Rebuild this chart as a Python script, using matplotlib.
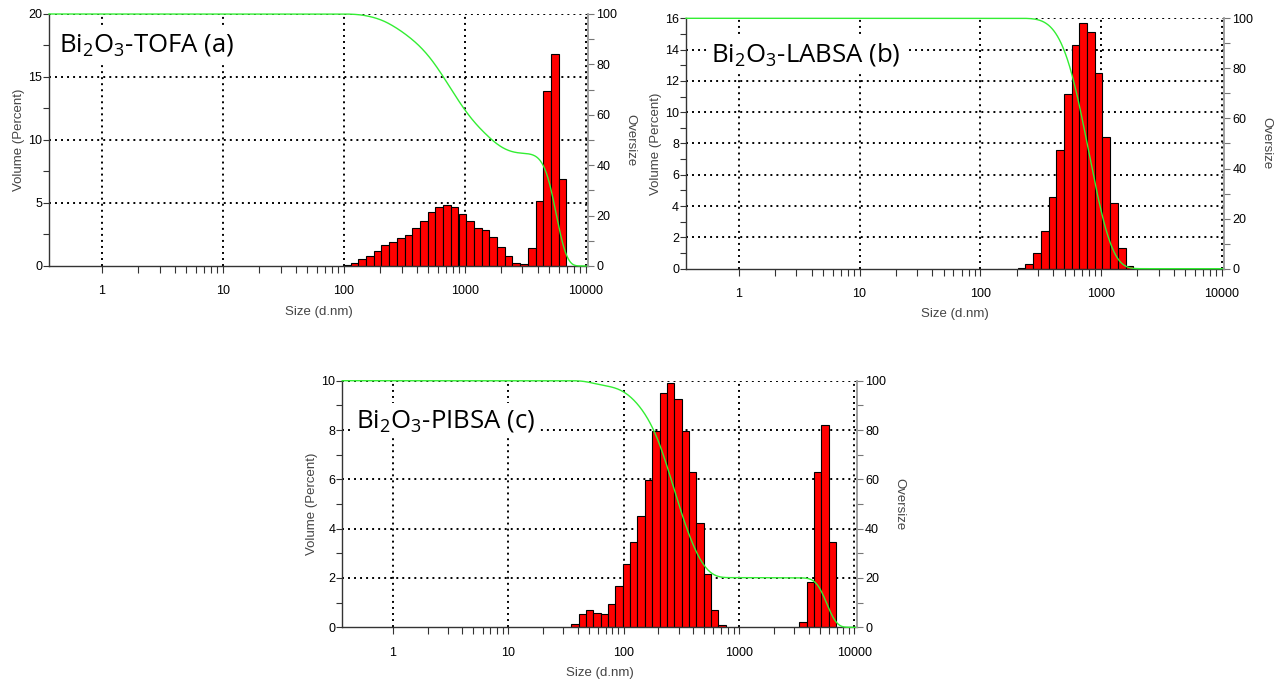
import numpy as np
import matplotlib
matplotlib.use("Agg")
import matplotlib.pyplot as plt
from matplotlib.ticker import FixedLocator, MultipleLocator, NullFormatter

plt.rcParams['font.family'] = ['Liberation Sans', 'DejaVu Sans']

# size classes (d.nm) and volume %
sizes_a = [105.7, 122.4, 141.8, 164.2, 190.1, 220.2, 255.0, 295.3, 342.0, 396.1,
           458.7, 531.2, 615.1, 712.4, 825.0, 955.4, 1106, 1281, 1484, 1718,
           1990, 2305, 2669, 3091, 3580, 4145, 4801, 5560, 6439]
vol_a = [0.1, 0.27, 0.58, 0.82, 1.19, 1.67, 1.94, 2.23, 2.49, 3.0,
         3.6, 4.32, 4.72, 4.85, 4.67, 4.11, 3.58, 3.05, 2.86, 2.31,
         1.51, 0.77, 0.21, 0.19, 1.41, 5.12, 13.85, 16.84, 6.92]

sizes_b = [220.2, 255.0, 295.3, 342.0, 396.1, 458.7, 531.2, 615.1, 712.4, 825.0,
           955.4, 1106, 1281, 1484, 1718]
vol_b = [0.03, 0.3, 1.02, 2.39, 4.59, 7.58, 11.15, 14.3, 15.72, 15.11,
         12.53, 8.42, 4.21, 1.35, 0.15]

sizes_c = [37.84, 43.82, 50.75, 58.77, 68.06, 78.82, 91.28, 105.7, 122.4, 141.8,
           164.2, 190.1, 220.2, 255.0, 295.3, 342.0, 396.1, 458.7, 531.2, 615.1,
           712.4, 3580, 4145, 4801, 5560, 6439]
vol_c = [0.12, 0.55, 0.70, 0.58, 0.54, 0.93, 1.67, 2.55, 3.45, 4.51,
         5.96, 7.95, 9.49, 9.91, 9.25, 7.95, 6.28, 4.23, 2.16, 0.70,
         0.08, 0.2, 1.85, 6.28, 8.2, 3.45]

titles = [r'Bi$_\mathregular{2}$O$_\mathregular{3}$-TOFA (a)',
          r'Bi$_\mathregular{2}$O$_\mathregular{3}$-LABSA (b)',
          r'Bi$_\mathregular{2}$O$_\mathregular{3}$-PIBSA (c)']

W, H = 1286, 687
XLIM = (0.365, 10450)
CLASS_RATIO = 1.158


def oversize(sizes, vols, grid, sigma=0.035):
    # cumulative oversize curve, smoothed in log space
    lx = np.log10(sizes)
    v = np.asarray(vols, float)
    over = 100 * (1 - (np.cumsum(v) - v) / v.sum())
    step = np.log10(CLASS_RATIO)
    px = np.r_[lx[0] - step, lx, lx[-1] + step]
    py = np.r_[100, over, 0]
    g = np.log10(grid)
    y = np.interp(g, px, py)
    dg = g[1] - g[0]
    n = int(4 * sigma / dg)
    k = np.exp(-0.5 * (np.arange(-n, n + 1) * dg / sigma) ** 2)
    k /= k.sum()
    ypad = np.r_[np.full(n, y[0]), y, np.full(n, y[-1])]
    return np.convolve(ypad, k, mode='valid')


fig = plt.figure(figsize=(W / 100, H / 100), dpi=100)


def panel(box, sizes, vols, ymax, ystep, title, tx, ty):
    l, r, t, b = box
    ax = fig.add_axes([l / W, 1 - b / H, (r - l) / W, (b - t) / H])
    ax.set_xscale('log')
    s = np.asarray(sizes)
    left = s / np.sqrt(CLASS_RATIO)
    width = s * np.sqrt(CLASS_RATIO) - left
    ax.bar(left, vols, width=width, align='edge', color='#ff0000',
           edgecolor='black', linewidth=0.8, zorder=2)
    ax.set_xlim(XLIM)
    ax.set_ylim(0, ymax)
    ax.set_xticks([1, 10, 100, 1000, 10000])
    ax.set_xticklabels(['1', '10', '100', '1000', '10000'])
    ax.xaxis.set_minor_locator(FixedLocator([m * 10 ** d for d in range(4) for m in range(2, 10)]))
    ax.xaxis.set_minor_formatter(NullFormatter())
    ax.set_yticks(np.arange(0, ymax + ystep / 2, ystep))
    ax.yaxis.set_minor_locator(MultipleLocator(ystep / 2))
    ax.set_axisbelow(True)
    ax.grid(True, which='major', color='black', linestyle=(0, (1, 2.1)), linewidth=1.4)
    ax.yaxis.get_gridlines()[0].set_visible(False)
    ax.tick_params(axis='x', which='both', direction='out', length=5, width=0.8,
                   color='#333333', labelsize=9, pad=9)
    ax.tick_params(axis='y', which='both', direction='out', length=4, width=0.8,
                   color='#333333', labelsize=9, pad=1)
    for side in ['top', 'right']:
        ax.spines[side].set_visible(False)
    for side in ['left', 'bottom']:
        ax.spines[side].set_color('#333333')
        ax.spines[side].set_linewidth(1.0)
    ax.set_ylabel('Volume (Percent)', fontsize=9.5, color='#444444', labelpad=2.5)
    ax.set_xlabel('Size (d.nm)', fontsize=9.5, color='#444444', labelpad=6)
    ax.text(tx, ty, title, transform=ax.transAxes, fontsize=18.5, family='Open Sans',
            ha='left', va='baseline', zorder=5,
            bbox=dict(facecolor='white', edgecolor='none', pad=3))

    ax2 = ax.twinx()
    ax2.set_ylim(0, 100)
    grid = np.geomspace(XLIM[0], XLIM[1], 1500)
    ax2.plot(grid, oversize(sizes, vols, grid), color='#33ee33', lw=1.0, clip_on=False)
    ax2.yaxis.set_major_locator(MultipleLocator(20))
    ax2.yaxis.set_minor_locator(MultipleLocator(10))
    ax2.tick_params(axis='y', which='both', direction='out', length=4, width=0.8,
                    color='#777777', labelsize=9, pad=2)
    for side in ['top', 'left', 'bottom']:
        ax2.spines[side].set_visible(False)
    ax2.spines['right'].set_color('#999999')
    ax2.spines['right'].set_linewidth(1.3)
    ax2.set_ylabel('Oversize', fontsize=9.5, color='#444444', rotation=270,
                   va='bottom', labelpad=5)
    return ax


panel((49, 588, 14, 266), sizes_a, vol_a, 20, 5, titles[0], 0.018, 0.853)
panel((686, 1224, 18.3, 268.7), sizes_b, vol_b, 16, 2, titles[1], 0.047, 0.827)
panel((342.3, 856.7, 380.7, 627.3), sizes_c, vol_c, 10, 2, titles[2], 0.026, 0.812)

fig.savefig('out.png', dpi=100)
